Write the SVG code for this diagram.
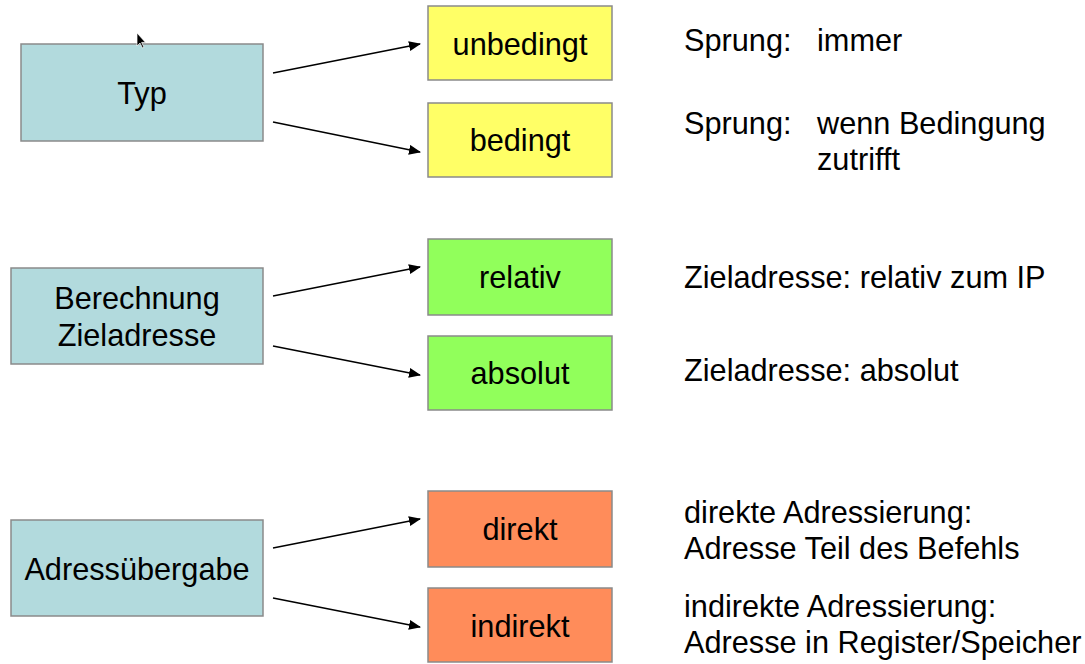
<svg xmlns="http://www.w3.org/2000/svg" width="1085" height="664" viewBox="0 0 1085 664">
<defs>
<style>
.box{stroke:#8a8a8a;stroke-width:1.5}
.cat{fill:#b2dadd}
.yel{fill:#ffff66}
.grn{fill:#91ff5b}
.org{fill:#ff8c5a}
text{font-family:"Liberation Sans",Arial,sans-serif;font-size:30.7px;fill:#000}
.c{text-anchor:middle}
.conn line{stroke:#000;stroke-width:1.6;marker-end:url(#ah)}
</style>
<marker id="ah" viewBox="0 0 12 10" refX="11" refY="5" markerWidth="12" markerHeight="10" markerUnits="userSpaceOnUse" orient="auto">
<path d="M0,0 L12,5 L0,10 z" fill="#000"/>
</marker>
</defs>
<rect width="1085" height="664" fill="#fff"/>

<g id="typ"><rect class="box cat" x="21" y="44" width="242" height="97"/><text class="c" x="142" y="104">Typ</text></g>
<g id="unbedingt"><rect class="box yel" x="428" y="6" width="184" height="74"/><text class="c" x="520" y="55">unbedingt</text></g>
<g id="bedingt"><rect class="box yel" x="428" y="103" width="184" height="74"/><text class="c" x="520" y="151">bedingt</text></g>

<g id="berechnung"><rect class="box cat" x="11" y="268" width="252" height="96"/><text class="c" x="137" y="309">Berechnung</text><text class="c" x="137" y="346">Zieladresse</text></g>
<g id="relativ"><rect class="box grn" x="428" y="239" width="184" height="76"/><text class="c" x="520" y="288">relativ</text></g>
<g id="absolut"><rect class="box grn" x="428" y="336" width="184" height="74"/><text class="c" x="520" y="384">absolut</text></g>

<g id="adressuebergabe"><rect class="box cat" x="11" y="520" width="252" height="96"/><text class="c" x="137" y="580">Adressübergabe</text></g>
<g id="direkt"><rect class="box org" x="428" y="491" width="184" height="76"/><text class="c" x="520" y="540">direkt</text></g>
<g id="indirekt"><rect class="box org" x="428" y="588" width="184" height="74"/><text class="c" x="520" y="637">indirekt</text></g>

<g class="conn" id="connectors">
<line x1="273" y1="73" x2="420" y2="44"/>
<line x1="273" y1="122" x2="420" y2="152"/>
<line x1="273" y1="296" x2="420" y2="267"/>
<line x1="273" y1="346" x2="420" y2="375"/>
<line x1="273" y1="548" x2="420" y2="519"/>
<line x1="273" y1="598" x2="420" y2="627"/>
</g>

<g id="descriptions">
<text x="684" y="51">Sprung:</text><text x="817" y="51">immer</text>
<text x="684" y="134">Sprung:</text><text x="817" y="134">wenn Bedingung</text>
<text x="817" y="170">zutrifft</text>
<text x="684" y="288">Zieladresse: relativ zum IP</text>
<text x="684" y="381">Zieladresse: absolut</text>
<text x="684" y="523">direkte Adressierung:</text>
<text x="684" y="559">Adresse Teil des Befehls</text>
<text x="684" y="617">indirekte Adressierung:</text>
<text x="684" y="653">Adresse in Register/Speicher</text>
</g>

<path d="M137,33 L137,46 L140,43 L142.5,48 L144,47.3 L141.6,42.4 L145.5,42.4 Z" fill="#000" stroke="#fff" stroke-width="0.7"/>
</svg>
